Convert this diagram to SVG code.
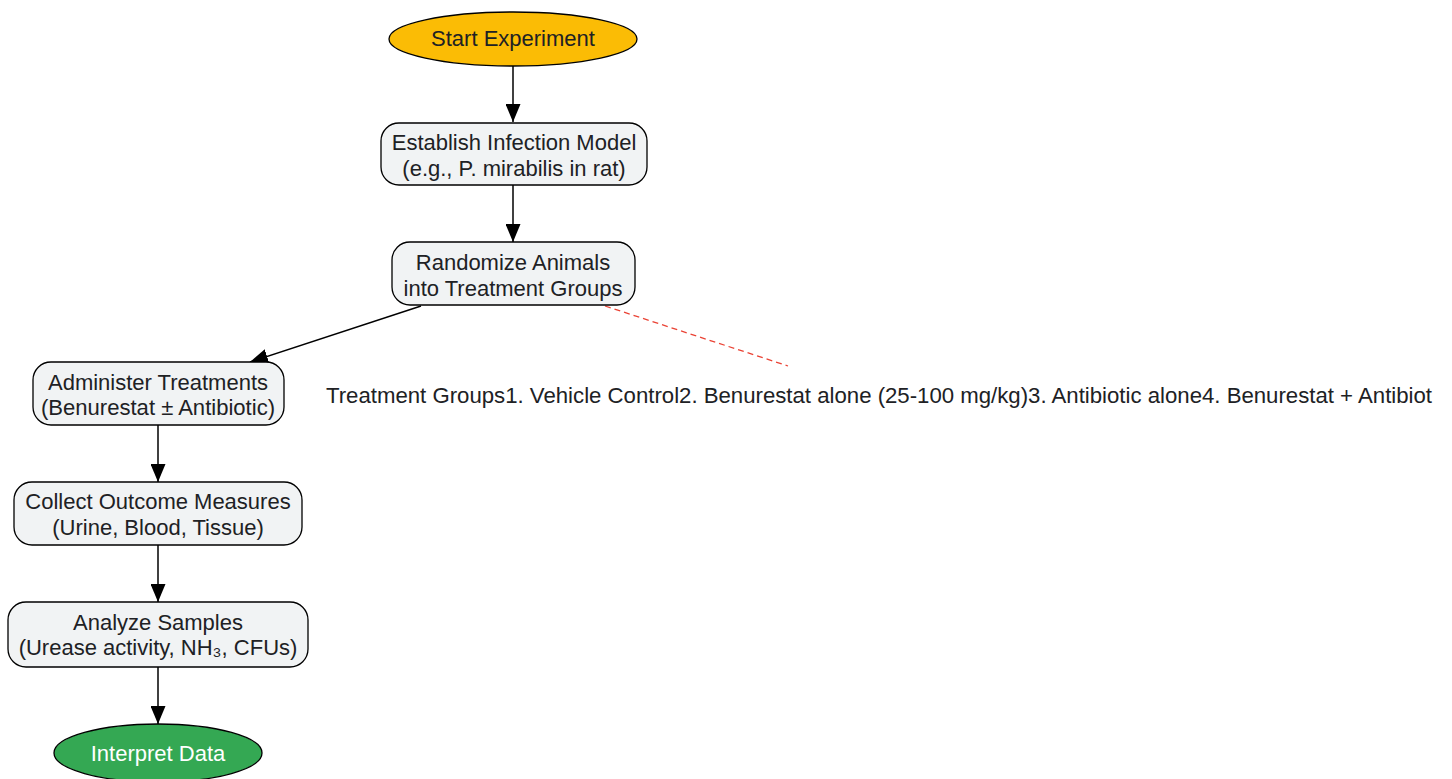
<svg xmlns="http://www.w3.org/2000/svg" width="1452" height="779" viewBox="0 0 1452 779">
<defs>
<style>
.t{font-family:"Liberation Sans",Arial,sans-serif;font-size:22px;fill:#202124;text-anchor:middle;dominant-baseline:central}
.box{fill:#f1f3f4;stroke:#000;stroke-width:1.3}
.e{stroke:#000;stroke-width:1.5;fill:none}
</style>
<marker id="ah" viewBox="0 0 18 15" refX="18" refY="7.5" markerWidth="18" markerHeight="15" markerUnits="userSpaceOnUse" orient="auto">
<path d="M0,0 L18,7.5 L0,15 Z" fill="#000"/>
</marker>
</defs>
<rect width="1452" height="779" fill="#fff"/>
<g id="connectors">
<path class="e" d="M513,66 L513,122" marker-end="url(#ah)"/>
<path class="e" d="M513,185 L513,242" marker-end="url(#ah)"/>
<path class="e" d="M421,306 L250,362" marker-end="url(#ah)"/>
<path d="M605,306 L788,366" stroke="#ea4335" stroke-width="1.3" stroke-dasharray="6,4" fill="none"/>
<path class="e" d="M158,425 L158,482" marker-end="url(#ah)"/>
<path class="e" d="M158,545 L158,602" marker-end="url(#ah)"/>
<path class="e" d="M158,667 L158,724" marker-end="url(#ah)"/>
</g>
<g id="start">
<ellipse cx="513" cy="39" rx="124" ry="27" fill="#fbbc05" stroke="#000" stroke-width="1.3"/>
<text class="t" x="513" y="38">Start Experiment</text>
</g>
<g id="establish">
<rect class="box" x="381" y="123" width="266" height="62" rx="18"/>
<text class="t" x="514" y="142">Establish Infection Model</text>
<text class="t" x="514" y="168">(e.g., P. mirabilis in rat)</text>
</g>
<g id="randomize">
<rect class="box" x="392" y="242" width="243" height="63" rx="18"/>
<text class="t" x="513" y="262">Randomize Animals</text>
<text class="t" x="513" y="288">into Treatment Groups</text>
</g>
<g id="administer">
<rect class="box" x="33" y="362" width="251" height="63" rx="18"/>
<text class="t" x="158" y="382" textLength="220" lengthAdjust="spacingAndGlyphs">Administer Treatments</text>
<text class="t" x="158" y="407" textLength="234" lengthAdjust="spacingAndGlyphs">(Benurestat ± Antibiotic)</text>
</g>
<g id="collect">
<rect class="box" x="14" y="482" width="288" height="63" rx="18"/>
<text class="t" x="158" y="501">Collect Outcome Measures</text>
<text class="t" x="158" y="527">(Urine, Blood, Tissue)</text>
</g>
<g id="analyze">
<rect class="box" x="8" y="602" width="300" height="65" rx="18"/>
<text class="t" x="158" y="622">Analyze Samples</text>
<text class="t" x="158" y="647">(Urease activity, NH₃, CFUs)</text>
</g>
<g id="interpret">
<ellipse cx="158" cy="753" rx="104" ry="29" fill="#34a853" stroke="#000" stroke-width="1.3"/>
<text class="t" x="158" y="753" style="fill:#fff">Interpret Data</text>
</g>
<g id="treatment-groups">
<text class="t" x="326" y="395" style="text-anchor:start" textLength="1106" lengthAdjust="spacingAndGlyphs">Treatment Groups1. Vehicle Control2. Benurestat alone (25-100 mg/kg)3. Antibiotic alone4. Benurestat + Antibiot</text>
</g>
</svg>
